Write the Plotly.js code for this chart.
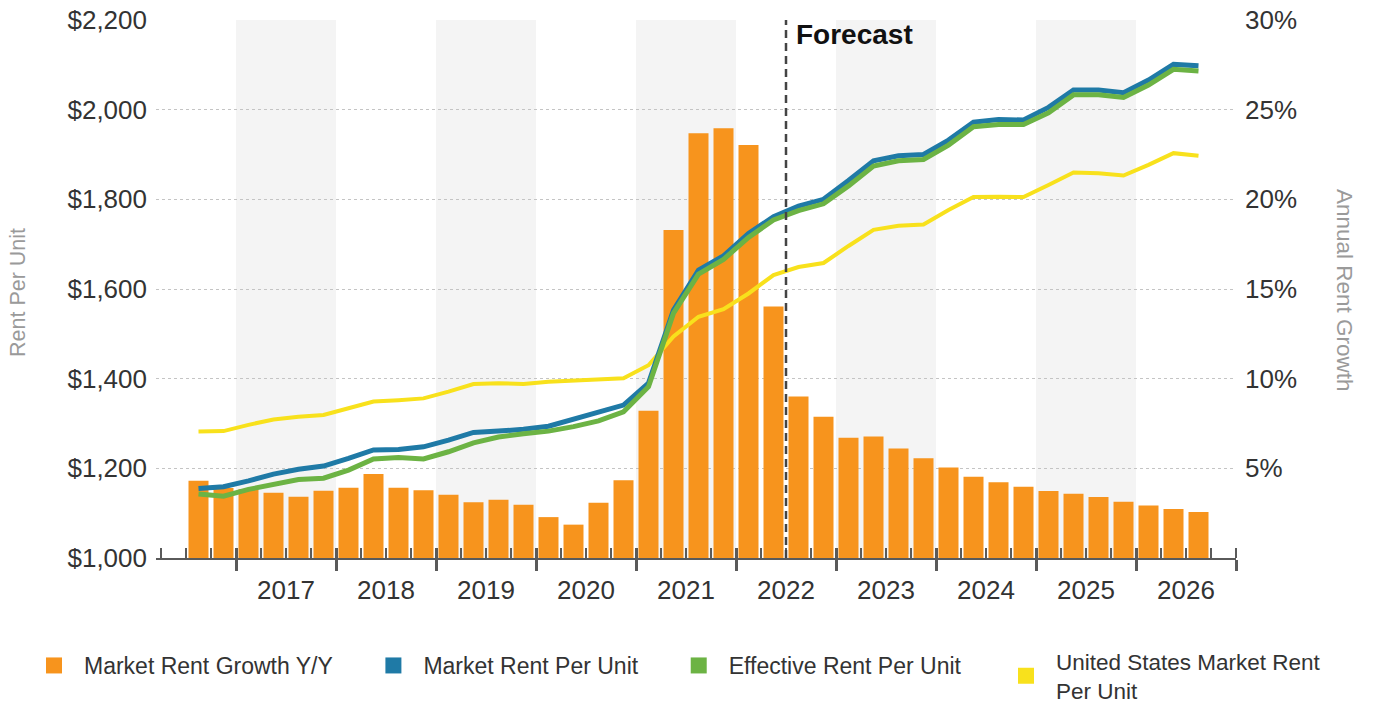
<!DOCTYPE html>
<html>
<head>
<meta charset="utf-8">
<script src="https://cdn.plot.ly/plotly-3.0.1.min.js"></script>
<style>
  html, body { margin: 0; padding: 0; background: #ffffff; }
  #chart { width: 1373px; height: 707px; }
</style>
</head>
<body>
<div id="chart"></div>
<script>
// ---------------- data ----------------
const quarters = [
  '2016 Q3','2016 Q4',
  '2017 Q1','2017 Q2','2017 Q3','2017 Q4',
  '2018 Q1','2018 Q2','2018 Q3','2018 Q4',
  '2019 Q1','2019 Q2','2019 Q3','2019 Q4',
  '2020 Q1','2020 Q2','2020 Q3','2020 Q4',
  '2021 Q1','2021 Q2','2021 Q3','2021 Q4',
  '2022 Q1','2022 Q2','2022 Q3','2022 Q4',
  '2023 Q1','2023 Q2','2023 Q3','2023 Q4',
  '2024 Q1','2024 Q2','2024 Q3','2024 Q4',
  '2025 Q1','2025 Q2','2025 Q3','2025 Q4',
  '2026 Q1','2026 Q2','2026 Q3'
];

// Market Rent Growth Y/Y (%)
const rentGrowth = [
  4.31, 3.90,
  3.83, 3.64, 3.42, 3.75,
  3.92, 4.68, 3.92, 3.78,
  3.53, 3.11, 3.25, 2.97,
  2.28, 1.86, 3.08, 4.33,
  8.21, 18.29, 23.69, 23.97,
  23.03, 14.02, 9.00, 7.88,
  6.71, 6.77, 6.10, 5.56,
  5.04, 4.53, 4.22, 3.98,
  3.74, 3.58, 3.40, 3.13,
  2.93, 2.73, 2.57
];

// Market Rent Per Unit ($)
const marketRent = [
  1155, 1159,
  1172, 1187, 1198, 1205,
  1222, 1241, 1242, 1248,
  1263, 1280, 1283, 1287,
  1294, 1309, 1324, 1341,
  1390, 1553, 1642, 1674,
  1724, 1761, 1785, 1800,
  1842, 1886, 1897, 1900,
  1932, 1972, 1978, 1977,
  2005, 2044, 2044, 2038,
  2066, 2101, 2098
];

// Effective Rent Per Unit ($)
const effectiveRent = [
  1143, 1138,
  1153, 1165, 1175, 1178,
  1196, 1221, 1224, 1221,
  1237, 1257, 1270, 1277,
  1283, 1293, 1306, 1326,
  1382, 1546, 1633, 1666,
  1715, 1754, 1775, 1790,
  1830, 1874, 1886, 1889,
  1921, 1962, 1967, 1967,
  1993, 2033, 2033, 2027,
  2055, 2090, 2086
];

// United States Market Rent Per Unit ($)
const usRent = [
  1282, 1283,
  1297, 1309, 1315, 1319,
  1334, 1349, 1352, 1356,
  1371, 1388, 1390, 1388,
  1393, 1395, 1397, 1401,
  1430, 1494, 1538, 1555,
  1590, 1631, 1649, 1658,
  1696, 1732, 1741, 1744,
  1776, 1805, 1806, 1805,
  1832, 1860, 1858, 1853,
  1877, 1903, 1897
];

const yearLabels = ['2017','2018','2019','2020','2021','2022','2023','2024','2025','2026'];
const shadedYears = [2017, 2019, 2021, 2023, 2025];
const forecastStart = '2022 Q3';
const pctTicks = [5, 10, 15, 20, 25, 30];
const dollarTicks = [1000, 1200, 1400, 1600, 1800, 2000, 2200];

const seriesNames = ['Market Rent Growth Y/Y', 'Market Rent Per Unit', 'Effective Rent Per Unit', 'United States Market Rent<br>Per Unit'];
const seriesColors = ['#f7941d', '#1f7aa6', '#6cb344', '#f8e11c'];

// ---------------- helpers ----------------
function qStart(label) {           // start of quarter, in years
  const [y, q] = label.split(' Q');
  return Number(y) + (Number(q) - 1) / 4;
}
function qCenter(label) { return qStart(label) + 0.125; }

const xq = quarters.map(qCenter);
const yearNums = yearLabels.map(Number);
const yearBoundaries = yearNums.concat([yearNums[yearNums.length - 1] + 1]);
const yearCenters = yearNums.map(y => y + 0.5);
const forecastX = qStart(forecastStart);
const pctText = pctTicks.map(v => v + '%');
const dollarText = dollarTicks.map(v => '$' + v.toLocaleString('en-US'));

const FONT = 'Liberation Sans, Arial, Helvetica, sans-serif';
const xRange = [2016.2, 2027.0];
const NBSP4 = '\u00a0\u00a0\u00a0\u00a0';

// ---------------- traces ----------------
const traces = [
  {
    type: 'bar', x: xq, y: rentGrowth, name: seriesNames[0],
    xaxis: 'x', yaxis: 'y',
    marker: { color: seriesColors[0], line: { width: 0 } },
    showlegend: false, legendgroup: 'g0'
  },
  {
    type: 'scatter', mode: 'lines', x: xq, y: usRent, name: seriesNames[3],
    xaxis: 'x', yaxis: 'y2',
    line: { color: seriesColors[3], width: 4 },
    showlegend: false, legendgroup: 'g3'
  },
  {
    type: 'scatter', mode: 'lines', x: xq, y: marketRent, name: seriesNames[1],
    xaxis: 'x', yaxis: 'y2',
    line: { color: seriesColors[1], width: 5 },
    showlegend: false, legendgroup: 'g1'
  },
  {
    type: 'scatter', mode: 'lines', x: xq, y: effectiveRent, name: seriesNames[2],
    xaxis: 'x', yaxis: 'y2',
    line: { color: seriesColors[2], width: 5 },
    showlegend: false, legendgroup: 'g2'
  }
];

// legend entries (square swatches, no data drawn)
const axesForProxy = ['x2', 'x3', 'x2', 'x3'];
seriesNames.forEach((nm, i) => {
  traces.push({
    type: 'scatter', mode: 'markers', x: [null], y: [null],
    name: i < 3 ? nm + NBSP4 : nm,
    xaxis: axesForProxy[i], yaxis: 'y',
    legend: i < 3 ? 'legend' : 'legend2',
    marker: { symbol: 'square', size: 18, color: seriesColors[i] },
    showlegend: true, legendgroup: 'g' + i, hoverinfo: 'skip'
  });
});

// ---------------- shapes & annotations ----------------
const shapes = shadedYears.map(y => ({
  type: 'rect', xref: 'x', yref: 'paper',
  x0: y, x1: y + 1, y0: 0, y1: 1,
  fillcolor: '#f4f4f4', line: { width: 0 }, layer: 'below'
}));
shapes.push({
  type: 'line', xref: 'x', yref: 'paper',
  x0: forecastX, x1: forecastX, y0: 0, y1: 1,
  line: { color: '#444444', width: 2.5, dash: '8px,5px' }, layer: 'above'
});

const annotations = [
  {
    text: 'Forecast', xref: 'x', yref: 'paper', x: forecastX, y: 1,
    xanchor: 'left', yanchor: 'top', xshift: 8, yshift: 3, showarrow: false,
    font: { family: FONT, size: 28, color: '#111111', weight: 'bold' }
  },
  {
    text: 'Rent Per Unit', xref: 'paper', yref: 'paper',
    x: (18 - 156) / 1080, y: (558 - 293) / 538, xanchor: 'center', yanchor: 'middle',
    textangle: -90, showarrow: false,
    font: { family: FONT, size: 21.5, color: '#9a9a9a' }
  },
  {
    text: 'Annual Rent Growth', xref: 'paper', yref: 'paper',
    x: (1345 - 156) / 1080, y: (558 - 290) / 538, xanchor: 'center', yanchor: 'middle',
    textangle: 90, showarrow: false,
    font: { family: FONT, size: 22.5, color: '#9a9a9a' }
  }
];

// ---------------- layout ----------------
const axisGray = '#5a5a5a';
const legendCommon = {
  orientation: 'h', xref: 'container', yref: 'container',
  xanchor: 'left', yanchor: 'top', y: 1 - 644 / 707,
  font: { family: FONT, size: 23, color: '#333333' },
  itemwidth: 50, bgcolor: 'rgba(0,0,0,0)', traceorder: 'normal',
  itemclick: false, itemdoubleclick: false
};
const layout = {
  width: 1373, height: 707,
  margin: { l: 156, r: 137, t: 20, b: 149, pad: 0, autoexpand: false },
  paper_bgcolor: '#ffffff', plot_bgcolor: '#ffffff',
  font: { family: FONT, color: '#333333' },
  bargap: 0.2,
  showlegend: true,
  xaxis: {
    range: xRange, type: 'linear', fixedrange: true,
    showgrid: false, zeroline: false,
    showline: true, linecolor: axisGray, linewidth: 2,
    ticks: 'outside', tickmode: 'array', tickvals: yearBoundaries,
    ticklen: 11, tickwidth: 3, tickcolor: axisGray,
    showticklabels: false,
    minor: { ticks: 'inside', dtick: 0.25, tick0: 2017, ticklen: 10, tickwidth: 1.5, tickcolor: axisGray, showgrid: false }
  },
  xaxis2: {
    overlaying: 'x', anchor: 'y', range: xRange, type: 'linear', fixedrange: true,
    showgrid: false, zeroline: false, showline: false,
    ticks: 'inside', tickmode: 'array', tickvals: yearBoundaries,
    ticklen: 10, tickwidth: 3, tickcolor: axisGray, showticklabels: false
  },
  xaxis3: {
    overlaying: 'x', anchor: 'y', range: xRange, type: 'linear', fixedrange: true,
    showgrid: false, zeroline: false, showline: false,
    ticks: '', tickmode: 'array', tickvals: yearCenters, ticktext: yearLabels,
    ticklabelstandoff: 14,
    tickfont: { family: FONT, size: 26, color: '#333333' }
  },
  yaxis: {
    side: 'right', range: [0, 30], fixedrange: true,
    tickmode: 'array', tickvals: pctTicks, ticktext: pctText,
    showgrid: true, gridcolor: '#c4c4c4', gridwidth: 1, griddash: 'dot',
    zeroline: false, showline: false, ticks: '',
    ticklabelstandoff: 8,
    tickfont: { family: FONT, size: 26, color: '#333333' }
  },
  yaxis2: {
    side: 'left', overlaying: 'y', range: [1000, 2200], fixedrange: true,
    tickmode: 'array', tickvals: dollarTicks, ticktext: dollarText,
    showgrid: false, zeroline: false, showline: false, ticks: '',
    ticklabelstandoff: 8,
    tickfont: { family: FONT, size: 26, color: '#333333' }
  },
  legend: Object.assign({}, legendCommon, { x: 24 / 1373 }),
  legend2: Object.assign({}, legendCommon, {
    x: 996 / 1373, y: 1 - 640 / 707,
    font: { family: FONT, size: 22.5, color: '#333333' }
  }),
  shapes: shapes,
  annotations: annotations
};

Plotly.newPlot('chart', traces, layout, { displayModeBar: false, staticPlot: true });
</script>
</body>
</html>
